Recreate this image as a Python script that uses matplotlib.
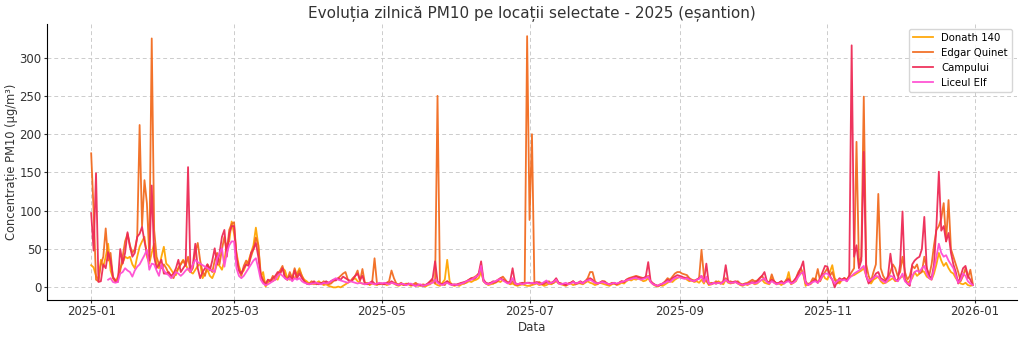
import numpy as np
import pandas as pd
import matplotlib
matplotlib.use("Agg")
import matplotlib.pyplot as plt
import matplotlib.dates as mdates

nan = np.nan
dates = pd.date_range("2025-01-01", "2025-12-31", freq="D")
series_names = ["Donath 140", "Edgar Quinet", "Campului", "Liceul Elf"]
colors = ["#FFA500", "#F26B1F", "#EE2A55", "#FF4DD2"]

donath = (
    [29, 26, 15, 10, 36, 27, 40, 57, 22, 12, 7, 14, 25, 32, 40, 38, 40, 30, 25, 40, 53, 60, 66, 40, 31, 45, 57, 31, 25, 40, 53]
    + [31, 28, 23, 18, 16, 25, 31, 36, 30, 23, 20, 18, 23, 28, 31, 12, 18, 23, 15, 12, 20, 31, 28, 23, 35, 57, 60, 86]
    + [70, 45, 28, 18, 22, 30, 35, 45, 55, 78, 55, 14, 20, 1, 6, 10, 8, 12, 10, 18, 25, 22, 12, 10, 15, 12, 18, 25, 15, 10, 8]
    + [5, 5, 4, 6, 8, 5, 3, 4, 2, 1, 0, 0, 1, 0, 2, 4, 6, 8, 10, 12, 8, 6, 5, 4, 6, 3, 5, 4, 3, 5]
    + [4, 5, 3, 4, 6, 5, 3, 2, 4, 3, 5, 4, 2, 3, 4, 2, 3, 2, 1, 3, 4, 8, 5, 3, 2, 6, 10, 36, 8, 3, 2]
    + [3, 2, 4, 5, 6, 8, 7, 9, 10, 12, 20, 8, 5, 3, 4, 5, 6, 8, 7, 10, 8, 6, 4, 5, 3, 2, 3, 4, 3, 2]
    + [2, 3, 4, 5, 3, 4, 2, 3, 5, 4, 6, 8, 5, 4, 3, 2, 4, 5, 3, 4, 6, 5, 4, 6, 8, 6, 5, 3, 4, 6, 5]
    + [4, 3, 2, 4, 5, 3, 4, 6, 5, 8, 10, 9, 11, 10, 12, 10, 8, 9, 12, 7, 4, 2, 1, 3, 2, 4, 6, 8, 7, 10, 12]
    + [14, 12, 13, 10, 8, 9, 7, 8, 6, 10, 5, 12, 3, 4, 6, 5, 8, 6, 4, 10, 6, 5, 6, 7, 5, 3, 2, 4, 3, 5]
    + [6, 4, 5, 8, 10, 6, 5, 4, 12, 6, 4, 5, 3, 6, 8, 20, 4, 6, 8, 15, 20, 18, 2, 5, 4, 8, 12, 6, 10, 18, 12]
    + [10, 20, 29, 12, 8, 5, 10, 12, 10, 14, 15, 16, 18, 20, 22, 25, 15, 8, 5, 10, 12, 14, 8, 5, 6, 8, 10, 12, 8, 10]
    + [12, 15, 10, 6, 8, 12, 20, 15, 18, 22, 20, 14, 12, 10, 18, 30, 45, 35, 28, 32, 25, 20, 18, 12, 8, 5, 4, 6, 3, 2, 3]
)

edgar = (
    [175, 100, 10, 8, 30, 40, 77, 35, 45, 12, 10, 10, 22, 40, 60, 70, 55, 45, 50, 65, 212, 80, 140, 110, 40, 325, 75, 40, 30, 25, 30]
    + [25, 18, 15, 12, 20, 25, 30, 35, 28, 40, 20, 25, 46, 58, 35, 20, 15, 30, 25, 20, 35, 45, 30, 50, 66, 45, 75, 83]
    + [85, 40, 22, 15, 28, 35, 30, 40, 50, 65, 55, 18, 10, 5, 10, 8, 15, 10, 18, 22, 28, 15, 10, 20, 12, 25, 15, 22, 15, 8, 5]
    + [5, 8, 6, 4, 6, 5, 8, 6, 4, 5, 8, 10, 12, 15, 18, 20, 10, 8, 12, 15, 22, 8, 24, 6, 5, 4, 6, 38, 5, 4]
    + [5, 4, 6, 8, 22, 12, 5, 4, 6, 3, 4, 5, 3, 4, 6, 3, 2, 4, 3, 5, 8, 10, 5, 250, 5, 4, 3, 8, 5, 3, 4]
    + [3, 4, 6, 5, 8, 10, 12, 13, 15, 18, 25, 8, 5, 4, 6, 5, 8, 10, 12, 14, 10, 6, 5, 8, 4, 3, 5, 4, 6, 328]
    + [88, 200, 5, 6, 7, 5, 4, 6, 8, 5, 6, 10, 6, 5, 4, 3, 5, 6, 8, 4, 5, 6, 5, 8, 12, 20, 20, 8, 5, 6, 8]
    + [8, 5, 4, 6, 5, 4, 6, 8, 7, 10, 12, 13, 14, 15, 14, 13, 12, 13, 15, 8, 5, 3, 2, 4, 5, 8, 12, 10, 14, 18, 20]
    + [20, 18, 17, 16, 12, 10, 9, 10, 12, 49, 15, 8, 4, 6, 5, 8, 6, 5, 8, 12, 7, 8, 6, 7, 8, 5, 4, 5, 6, 8]
    + [10, 8, 9, 12, 15, 10, 8, 6, 17, 8, 5, 6, 8, 5, 10, 12, 6, 8, 12, 20, 25, 18, 5, 4, 6, 12, 10, 24, 8, 15, 20]
    + [25, 15, 20, 10, 5, 8, 10, 12, 10, 15, 20, 25, 190, 30, 40, 249, 30, 15, 8, 20, 30, 122, 25, 15, 10, 12, 20, 30, 25, 15]
    + [20, 40, 20, 10, 15, 28, 25, 30, 18, 20, 40, 25, 15, 30, 55, 75, 80, 90, 110, 60, 114, 50, 40, 30, 20, 8, 15, 25, 12, 23, 5]
)

campului = (
    [97, 48, 149, 7, 8, 30, 25, 46, 35, 14, 8, 7, 50, 31, 45, 72, 53, 40, 45, 66, 70, 79, 60, 45, 35, 133, 40, 25, 30, 36, 18]
    + [18, 20, 15, 18, 25, 36, 20, 25, 30, 157, 20, 30, 57, 25, 12, 20, 25, 30, 22, 35, 51, 30, 45, 66, 75, 40, 70, 80]
    + [80, 40, 22, 18, 25, 30, 28, 45, 50, 58, 40, 15, 8, 3, 10, 8, 12, 15, 20, 18, 25, 12, 10, 15, 10, 22, 12, 18, 12, 8, 5]
    + [4, 5, 8, 5, 4, 6, 5, 8, 6, 8, 10, 9, 12, 10, 14, 12, 10, 8, 10, 15, 18, 10, 15, 5, 4, 6, 8, 5, 4, 5]
    + [5, 4, 6, 5, 8, 6, 4, 3, 5, 4, 3, 5, 4, 3, 2, 4, 3, 2, 3, 5, 8, 12, 34, 8, 5, 4, 6, 8, 5, 4, 3]
    + [4, 5, 6, 7, 8, 10, 12, 11, 13, 18, 34, 10, 6, 5, 6, 8, 7, 9, 12, 10, 8, 6, 8, 25, 6, 4, 5, 6, 5, 6]
    + [6, 5, 6, 7, 5, 4, 6, 8, 5, 6, 8, 12, 6, 5, 4, 3, 5, 6, 8, 5, 6, 8, 6, 8, 10, 12, 10, 6, 5, 6, 8]
    + [7, 5, 4, 5, 6, 4, 6, 8, 7, 10, 11, 12, 13, 14, 13, 12, 12, 14, 33, 8, 5, 3, 2, 3, 5, 7, 10, 8, 12, 14, 16]
    + [15, 14, 12, 13, 10, 9, 8, 10, 12, 15, 8, 31, 5, 4, 6, 5, 6, 5, 8, 29, 8, 6, 7, 8, 6, 4, 3, 5, 4, 6]
    + [7, 6, 8, 12, 15, 20, 8, 6, 10, 8, 5, 6, 8, 5, 8, 10, 5, 8, 12, 18, 25, 34, 8, 3, 5, 8, 10, 6, 12, 20, 28]
    + [27, 15, 10, 0, 8, 12, 10, 12, 8, 15, 316, 40, 55, 25, 35, 177, 15, 5, 10, 12, 18, 20, 12, 10, 8, 15, 44, 20, 10, 8]
    + [30, 99, 10, 5, 2, 30, 35, 38, 40, 50, 92, 25, 15, 12, 30, 80, 151, 74, 80, 60, 71, 45, 30, 20, 5, 15, 25, 28, 15, 10, 3]
)

liceul = (
    [nan] * 7 + [10, 12, 7, 6, 7, 18, 20, 25, 22, 20, 14, 22, 27, 30, 36, 42, 49, 23, 31, 30, 22, 15, 30, 22]
    + [18, 16, 12, 15, 20, 18, 15, 18, 22, 25, 20, 30, 36, 33, 31, 29, 27, 25, 23, 22, 20, 38, 45, 51, 27, 45, 55, 60]
    + [60, 25, 15, 12, 15, 20, 25, 30, 35, 38, 25, 10, 5, 3, 4, 6, 8, 10, 15, 18, 15, 12, 10, 12, 8, 12, 10, 12, 8, 6, 5]
    + [4, 5, 5, 6, 5, 4, 6, 5, 6, 8, 10, 12, 10, 9, 8, 7, 6, 8, 7, 6, 5, 6, 5, 4, 5, 6, 5, 4, 5, 6]
    + [5, 6, 5, 4, 6, 5, 4, 3, 5, 4, 3, 4, 5, 3, 2, 3, 4, 2, 3, 4, 5, 6, 10, 6, 4, 3, 5, 6, 4, 3, 4]
    + [3, 4, 5, 6, 8, 9, 10, 12, 14, 16, 28, 8, 5, 4, 5, 7, 8, 10, 11, 9, 7, 5, 6, 12, 5, 4, 5, 4, 5, 6]
    + [5, 6, 5, 6, 4, 5, 7, 9, 5, 6, 7, 10, 5, 4, 5, 6, 4, 5, 7, 5, 6, 7, 5, 8, 9, 10, 8, 6, 5, 6, 7]
    + [6, 5, 4, 5, 6, 5, 6, 7, 8, 9, 10, 11, 12, 12, 11, 10, 11, 12, 14, 7, 4, 3, 2, 4, 5, 6, 8, 7, 10, 12, 13]
    + [13, 12, 11, 12, 10, 9, 8, 10, 11, 15, 7, 14, 5, 4, 6, 5, 6, 5, 7, 10, 7, 6, 6, 7, 5, 4, 3, 4, 4, 5]
    + [6, 5, 6, 8, 10, 12, 7, 5, 8, 6, 4, 5, 6, 5, 7, 8, 5, 6, 9, 14, 18, 20, 6, 3, 5, 7, 8, 6, 10, 15, 18]
    + [18, 14, 10, 5, 8, 10, 9, 10, 8, 12, 15, 18, 20, 22, 25, 28, 15, 8, 10, 12, 15, 14, 10, 8, 6, 10, 15, 14, 10, 8]
    + [12, 18, 8, 5, 4, 15, 20, 22, 20, 25, 28, 18, 12, 10, 25, 40, 57, 45, 40, 42, 35, 30, 25, 15, 6, 10, 18, 15, 8, 5, 3]
)

all_series = [donath, edgar, campului, liceul]
for s in all_series:
    assert len(s) == len(dates), len(s)

fig = plt.figure(figsize=(10.24, 3.37), dpi=100)
ax = fig.add_axes([0.046, 0.11, 0.947, 0.82])

for name, vals, col in zip(series_names, all_series, colors):
    ax.plot(dates, vals, color=col, lw=1.3, label=name, alpha=0.95)

ax.set_title("Evoluția zilnică PM10 pe locații selectate - 2025 (eșantion)",
             fontsize=11, color="#333333", pad=4)
ax.set_xlabel("Data", fontsize=8.5, color="#333333", labelpad=2)
ax.set_ylabel("Concentrație PM10 (µg/m³)", fontsize=8.3, color="#333333", labelpad=1)
ax.xaxis.set_major_locator(mdates.MonthLocator(bymonth=[1, 3, 5, 7, 9, 11]))
ax.xaxis.set_major_formatter(mdates.DateFormatter("%Y-%m"))
ax.tick_params(labelsize=8.5, colors="#333333", length=2, pad=2)
ax.grid(True, linestyle=(0, (4, 3)), color="#cccccc", linewidth=0.7)
ax.spines["top"].set_visible(False)
ax.spines["right"].set_visible(False)
ax.legend(loc="upper right", fontsize=7.3, frameon=True)

fig.savefig("out.png", dpi=100)
